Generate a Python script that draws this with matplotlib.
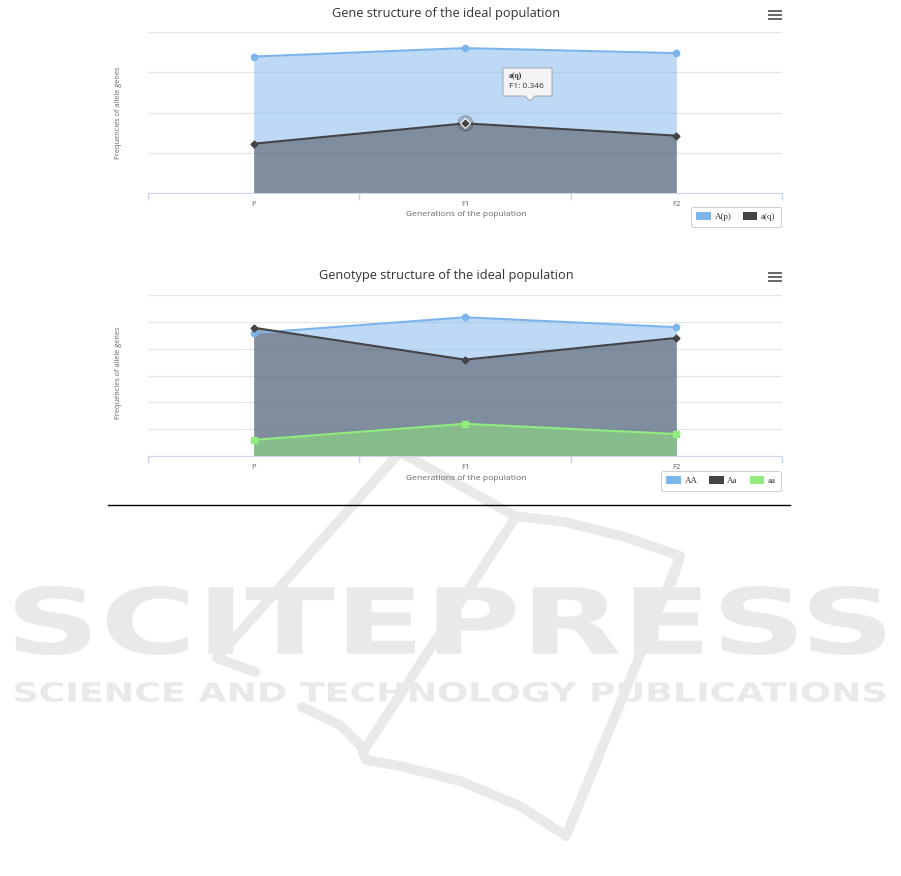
import matplotlib
matplotlib.use('Agg')
import matplotlib.pyplot as plt
import numpy as np
from matplotlib.patches import Rectangle, PathPatch, Polygon
from matplotlib.textpath import TextPath
from matplotlib.font_manager import FontProperties
from matplotlib.transforms import Affine2D

plt.rcParams['font.family'] = ['Open Sans', 'DejaVu Sans']

W, H = 901, 876

# data
generations = ['P', 'F1', 'F2']
allele_names = ['A(p)', 'a(q)']
p_values = [0.678, 0.72, 0.695]
q_values = [0.245, 0.346, 0.285]
genotype_names = ['AA', 'Aa', 'aa']
AA_values = [0.458, 0.517, 0.480]
Aa_values = [0.478, 0.359, 0.440]
aa_values = [0.060, 0.120, 0.082]

colors = ['#7cb5ec', '#434348', '#90ed7d']
markers = ['o', 'D', 's']
msizes = [4.5, 3.5, 4.5]

fig = plt.figure(figsize=(W / 100, H / 100), dpi=100)


def rect(l, t, r, b):
    return [l / W, 1 - b / H, (r - l) / W, (b - t) / H]


# pixel layers: watermark below, overlay above
bg = fig.add_axes([0, 0, 1, 1], zorder=0)
bg.set_xlim(0, W)
bg.set_ylim(H, 0)
bg.axis('off')
top = fig.add_axes([0, 0, 1, 1], zorder=10)
top.set_xlim(0, W)
top.set_ylim(H, 0)
top.axis('off')
top.patch.set_alpha(0)

wm = '#e8e9e8'


def stamp(text, l, t, r, b):
    tp = TextPath((0, 0), text, size=100, prop=FontProperties(family='DejaVu Sans', weight='bold'))
    ext = tp.get_extents()
    tr = Affine2D().translate(-ext.x0, -ext.y0).scale((r - l) / ext.width, -(b - t) / ext.height).translate(l, b)
    bg.add_patch(PathPatch(tr.transform_path(tp), fc=wm, ec='none'))


# watermark logo strokes
strokes = [
    [(400, 452), (217, 658), (255, 672)],
    [(400, 452), (515, 516), (565, 522), (625, 537), (680, 556), (672, 582)],
    [(515, 518), (363, 752)],
    [(302, 707), (340, 725), (360, 745), (366, 760), (400, 766), (460, 781), (520, 806), (566, 836)],
    [(566, 836), (680, 557)],
]
for s in strokes:
    xs, ys = zip(*s)
    bg.plot(xs, ys, color=wm, lw=7, solid_capstyle='round', solid_joinstyle='round')
stamp('SCITEPRESS', 15, 586, 885, 655)
stamp('SCIENCE AND TECHNOLOGY PUBLICATIONS', 15, 682, 885, 702)


def chart(box, title, title_y, names, series, ymax, ystep, xlab_y, ylab_y, leg_anchor, menu_y):
    ax = fig.add_axes(rect(*box), zorder=1)
    ax.patch.set_alpha(0)
    x = np.arange(len(generations))
    for name, vals, c, m, ms in zip(names, series, colors, markers, msizes):
        ax.fill_between(x, 0, vals, color=c, alpha=0.5, lw=0)
        ax.plot(x, vals, color=c, lw=1.5, marker=m, ms=ms, zorder=3)
    ax.set_xlim(-0.5, len(generations) - 0.5)
    ax.set_ylim(0, ymax)
    ax.set_yticks(np.arange(0, ymax + 1e-9, ystep))
    ax.set_yticklabels([])
    ax.tick_params(axis='y', length=0)
    ax.grid(axis='y', color='#e6e6e6', lw=1)
    ax.set_axisbelow(True)
    for sp in ['top', 'left', 'right']:
        ax.spines[sp].set_visible(False)
    ax.spines['bottom'].set_color('#ccd6eb')
    ax.set_xticks(x)
    ax.set_xticklabels(generations, fontsize=5.5, color='#666666')
    ax.tick_params(axis='x', length=0, pad=5.5)
    ax.set_xticks(np.arange(-0.5, len(generations)), minor=True)
    ax.tick_params(axis='x', which='minor', length=5, color='#ccd6eb', width=1)
    fig.text(446 / W, 1 - title_y / H, title, ha='center', va='center', fontsize=9.2, color='#333333')
    fig.text(466 / W, 1 - xlab_y / H, 'Generations of the population', ha='center', va='center',
             fontsize=6.1, color='#666666')
    fig.text(118 / W, 1 - ylab_y / H, 'Frequencies of allele genes', ha='center', va='center',
             rotation=90, fontsize=5.3, color='#666666')
    handles = [Rectangle((0, 0), 1, 1, fc=c, ec='none') for c in colors[:len(names)]]
    leg = fig.legend(handles, names, loc='upper right', bbox_to_anchor=(leg_anchor[0] / W, 1 - leg_anchor[1] / H),
                     ncol=len(names), frameon=True, fancybox=True, edgecolor='#bbbbbb',
                     prop=FontProperties(family='Liberation Serif', size=6.5),
                     handlelength=1.6, handleheight=0.9, handletextpad=0.4, columnspacing=1.3,
                     borderpad=0.6, borderaxespad=0)
    leg.get_frame().set_linewidth(0.6)
    for t in leg.get_texts():
        t.set_color('#333333')
    for dy in (-4, 0, 4):
        top.plot([769, 781], [menu_y + dy] * 2, color='#666666', lw=1.4)
    return ax


ax1 = chart((148, 32, 782, 193), 'Gene structure of the ideal population', 13, allele_names,
            [p_values, q_values], 0.8, 0.2, 215, 113, (781, 207), 15)
ax2 = chart((148, 295, 782, 456), 'Genotype structure of the ideal population', 275, genotype_names,
            [AA_values, Aa_values, aa_values], 0.6, 0.1, 478, 373, (781, 471), 277)

# hovered point with its tooltip
ax1.plot(1, q_values[1], marker='o', ms=11, color=colors[1], alpha=0.25, zorder=4)
ax1.plot(1, q_values[1], marker='D', ms=5, color=colors[1], mec='white', mew=0.8, zorder=5)
tip = Polygon([(503, 68), (552, 68), (552, 96), (535, 96), (530, 101), (525, 96), (503, 96)],
              closed=True, fc='#f7f7f7', ec='#a0a0a0', lw=0.7, alpha=0.92)
top.add_patch(tip)
top.text(509, 76, allele_names[1], fontsize=5.5, fontweight='bold', color='#333333', va='center',
         family='Liberation Serif')
top.text(509, 87, f'{generations[1]}: {q_values[1]:.3f}', fontsize=6, color='#333333', va='center')

# separator rule under the figure
top.plot([108, 790], [505, 505], color='black', lw=1)

fig.savefig('out.png', dpi=100)
